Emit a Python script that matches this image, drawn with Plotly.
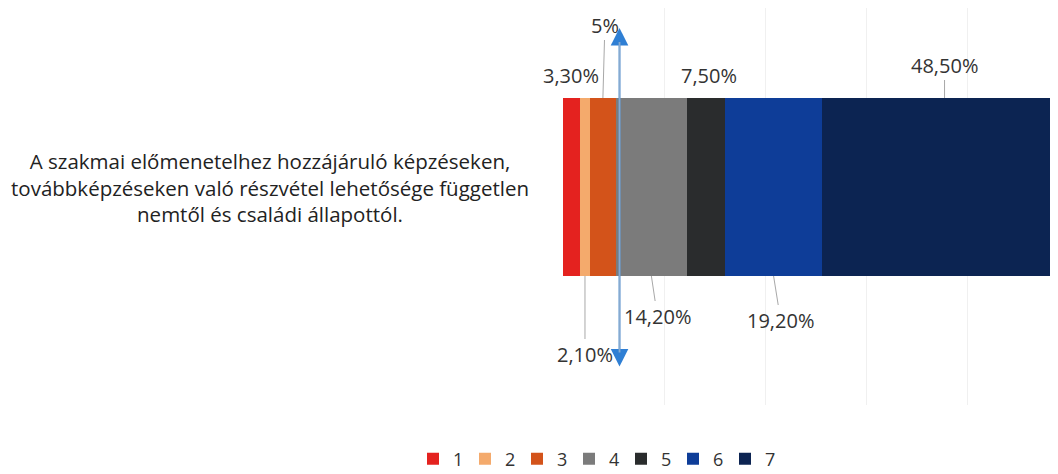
import plotly.graph_objects as go

category = "A szakmai előmenetelhez hozzájáruló képzéseken,<br>továbbképzéseken való részvétel lehetősége független<br>nemtől és családi állapottól."
series = ["1", "2", "3", "4", "5", "6", "7"]
values = [3.3, 2.1, 5.0, 14.2, 7.5, 19.2, 48.5]
labels = ["3,30%", "2,10%", "5%", "14,20%", "7,50%", "19,20%", "48,50%"]
colors = ["#e4221f", "#f4aa6c", "#d3531a", "#7b7b7b", "#2a2c2d", "#0e3d98", "#0c2452"]

# label offsets (pixels) from the bar edge: (ax, ay, side, leader)
label_pos = [
    (0, -23, "top", False),
    (0, 78, "bottom", True),
    (2, -73, "top", True),
    (6, 40, "bottom", True),
    (3, -23, "top", False),
    (7, 44, "bottom", True),
    (0, -33, "top", True),
]

fnt = "Open Sans"
fig = go.Figure()
for s, v, c in zip(series, values, colors):
    fig.add_trace(go.Bar(x=[v], y=[0], orientation="h", name=s, width=1,
                         marker=dict(color=c, line=dict(width=0))))

start = 0
for v, lab, (ax, ay, side, leader) in zip(values, labels, label_pos):
    mid = start + v / 2
    start += v
    yy = 0.5 if side == "top" else -0.5
    fig.add_annotation(x=mid, y=yy, xref="x", yref="y", text=lab,
                       showarrow=True, ax=ax, ay=ay, arrowhead=0,
                       arrowwidth=1 if leader else 0.1,
                       arrowcolor="#a8a8a8" if leader else "rgba(0,0,0,0)",
                       font=dict(family=fnt, size=20, color="#333333"))

# vertical double arrow marker at the end of segment 3
cut = sum(values[:3])
tip = (397 - 20) / 397
fig.add_annotation(x=cut, y=tip, xref="x", yref="y domain",
                   ax=0, ay=340, axref="pixel", ayref="pixel",
                   text="", showarrow=True, arrowside="end+start", arrowhead=2,
                   arrowsize=2.2, arrowwidth=1.6, arrowcolor="#2f7fd4", xshift=4)
fig.add_annotation(x=cut, y=tip, xref="x", yref="y domain",
                   ax=0, ay=340, axref="pixel", ayref="pixel", standoff=14, startstandoff=14,
                   text="", showarrow=True, arrowhead=0,
                   arrowwidth=1.8, arrowcolor="#86aad0", xshift=4)

fig.add_annotation(x=(262 - 555) / 503, y=0, xref="paper", yref="y", text=category,
                   showarrow=False, align="center", xanchor="center",
                   font=dict(family=fnt, size=20.5, color="#222222"))

fig.update_layout(
    width=1058, height=474, barmode="stack",
    margin=dict(l=555, r=0, t=0, b=77),
    plot_bgcolor="white", paper_bgcolor="white",
    showlegend=True,
    legend=dict(orientation="h", xref="container", yref="container",
                x=587 / 1058, xanchor="center", y=1 - 451 / 474, yanchor="middle",
                entrywidth=7, entrywidthmode="pixels",
                font=dict(family=fnt, size=18, color="#333333"),
                traceorder="normal"),
    xaxis=dict(range=[0, 99.6], dtick=20, showgrid=True, gridcolor="#f0f0f0",
               gridwidth=1, showticklabels=False, zeroline=False, showline=False),
    yaxis=dict(range=[-1.2247, 1.0056], showticklabels=False, showgrid=False,
               zeroline=False),
)
fig.write_html("out.html")
